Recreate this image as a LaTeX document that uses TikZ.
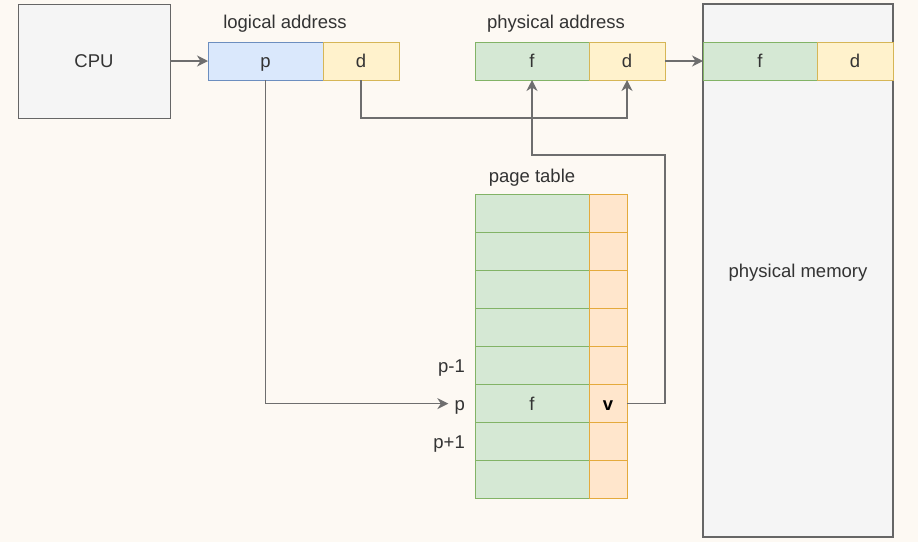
\documentclass[tikz,border=0pt]{standalone}
\usepackage{fontspec}
\setmainfont{Liberation Sans}
\usetikzlibrary{
  arrows.meta,
  positioning
}
\definecolor{bgcolor}{RGB}{253, 249, 243}
\definecolor{cpufill}{RGB}{245, 245, 245}
\definecolor{cpudraw}{RGB}{102, 102, 102}
\definecolor{pagefill}{RGB}{218, 232, 252}
\definecolor{pagedraw}{RGB}{108, 142, 191}
\definecolor{offsetfill}{RGB}{255, 242, 204}
\definecolor{offsetdraw}{RGB}{214, 182, 86}
\definecolor{framefill}{RGB}{213, 232, 212}
\definecolor{framedraw}{RGB}{130, 179, 102}
\definecolor{validfill}{RGB}{255, 230, 204}
\definecolor{validdraw}{RGB}{228, 170, 60}
\definecolor{labelcolor}{RGB}{51, 51, 51}
\definecolor{arrowcolor}{RGB}{110, 110, 110}
\tikzset{
blocktext/.style={
  align=center,
  font=\fontsize{18.5}{21}\selectfont,
  text=labelcolor
},
cell/.style={
  draw,
  line width=1pt,
  inner sep=0pt,
  outer sep=0pt,
  minimum height=38pt,
  text height=16pt,
  text depth=3pt,
  blocktext
},
cpublock/.style={
  cell,
  fill=cpufill,
  draw=cpudraw,
  minimum width=152pt,
  minimum height=114pt
},
memblock/.style={
  cell,
  fill=cpufill,
  draw=cpudraw,
  line width=1.1pt,
  minimum width=190pt,
  minimum height=533pt
},
pagecell/.style={
  cell,
  fill=pagefill,
  draw=pagedraw,
  minimum width=115pt
},
offsetcell/.style={
  cell,
  fill=offsetfill,
  draw=offsetdraw,
  minimum width=76pt
},
framecell/.style={
  cell,
  fill=framefill,
  draw=framedraw,
  minimum width=114pt
},
validcell/.style={
  cell,
  fill=validfill,
  draw=validdraw,
  minimum width=38pt
},
titlelabel/.style={
  blocktext,
  inner sep=2pt,
  text height=16pt,
  text depth=3pt
},
arrow/.style={
  -{Stealth[length=11pt,width=11pt,inset=3.5pt]},
  line width=1.4pt,
  draw=arrowcolor
}
}

\begin{document}
\begin{tikzpicture}[x=1pt,y=-1pt]
  \fill[bgcolor] (0,0) rectangle (918,542);
  \useasboundingbox (0,0) rectangle (918,542);

  % cpu and logical address
  \node[cpublock] (cpu) at (94,61) {CPU};
  \node[pagecell] (logicalp) at (265.5,61) {p};
  \node[offsetcell, right=0pt of logicalp] (logicald) {d};
  \node[titlelabel] (logicallabel) at (285,22) {logical address};

  % physical address
  \node[framecell] (physf) at (532,61) {f};
  \node[offsetcell, right=0pt of physf] (physd) {d};
  \node[titlelabel] (physlabel) at (556,22) {physical address};

  % physical memory
  \node[memblock] (memory) at (798,270.5) {physical memory};
  \node[framecell] (memf) at (760,61) {f};
  \node[offsetcell, right=0pt of memf] (memd) {d};

  % page table
  \node[titlelabel] (tablelabel) at (532,176) {page table};
  \foreach \i in {1,...,5,7,8} {
    \node[framecell] (pagef\i) at (532,{213+38.125*(\i-1)}) {};
    \node[validcell, right=0pt of pagef\i] (pagev\i) {};
  }
  \node[framecell] (pagef6) at (532,{213+38.125*5}) {f};
  \node[validcell, right=0pt of pagef6, text=black, font=\fontsize{18.5}{21}\selectfont\bfseries] (pagev6) {v};

  \node[titlelabel, left=8pt of pagef5.west] (prevlabel) {p-1};
  \node[titlelabel, left=8pt of pagef6.west] (plabel) {p};
  \node[titlelabel, left=8pt of pagef7.west] (nextlabel) {p+1};

  % connectors
  \draw[arrow] (cpu.east) -- (logicalp.west);
  \draw[arrow, shorten >=4pt] (logicalp.south) |- (plabel.west);
  \draw[arrow] (logicald.south) |- ([yshift=-38pt]physd.south) -- (physd.south);
  \draw[arrow] (pagev6.east) -- ++(38,0) |- ([yshift=-75pt]physf.south) -- (physf.south);
  \draw[arrow] (physd.east) -- (memf.west);
\end{tikzpicture}
\end{document}
